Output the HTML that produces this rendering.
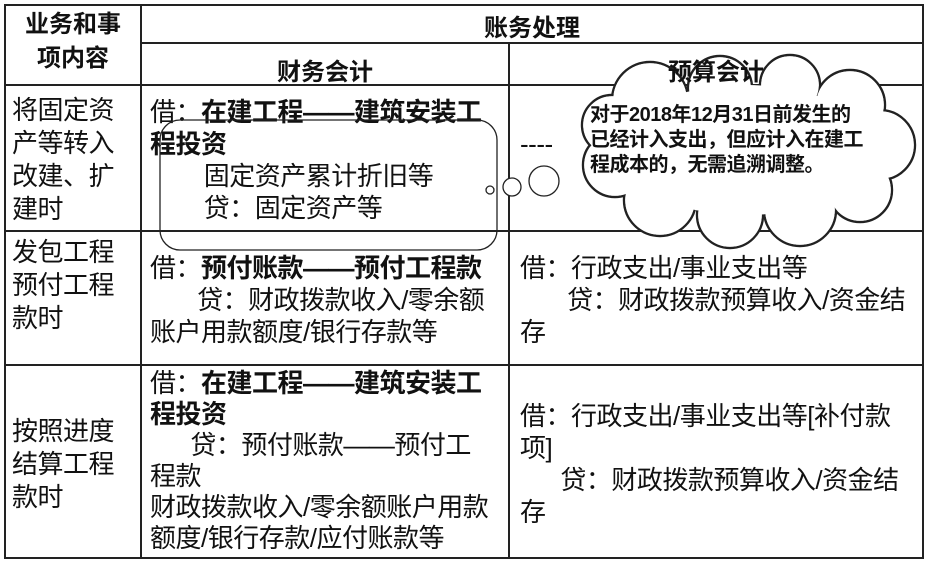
<!DOCTYPE html>
<html><head><meta charset="utf-8"><style>
body{margin:0;width:927px;height:564px;background:#fff;position:relative;overflow:hidden;font-family:"Liberation Sans","Noto Sans CJK SC",sans-serif;color:#111}
.t{position:absolute;font-size:26px;line-height:32px;white-space:nowrap;letter-spacing:-0.5px}
.h{position:absolute;font-size:24px;font-weight:bold;white-space:nowrap;text-align:center}
b{font-weight:bold}
.l{position:absolute;background:#222}
</style></head><body>
<div class="l" style="left:4px;top:4px;width:920px;height:2px"></div>
<div class="l" style="left:141px;top:42px;width:783px;height:2px"></div>
<div class="l" style="left:4px;top:84px;width:920px;height:2px"></div>
<div class="l" style="left:4px;top:230px;width:920px;height:2px"></div>
<div class="l" style="left:4px;top:364px;width:920px;height:2px"></div>
<div class="l" style="left:4px;top:557px;width:920px;height:2px"></div>
<div class="l" style="left:4px;top:4px;width:2px;height:555px"></div>
<div class="l" style="left:140px;top:4px;width:2px;height:555px"></div>
<div class="l" style="left:508px;top:42px;width:2px;height:517px"></div>
<div class="l" style="left:922px;top:4px;width:2px;height:555px"></div>

<div class="h" style="left:6px;top:8px;width:134px;line-height:34px">业务和事<br>项内容</div>
<div class="h" style="left:142px;top:8px;width:780px">账务处理</div>

<div class="t" style="left:12px;top:94px;line-height:33px">将固定资<br>产等转入<br>改建、扩<br>建时</div>
<div class="t" style="left:12px;top:236px;line-height:33px">发包工程<br>预付工程<br>款时</div>
<div class="t" style="left:12px;top:415px;line-height:33px">按照进度<br>结算工程<br>款时</div>

<div class="t" style="left:150px;top:96px">借：<b>在建工程——建筑安装工</b><br><b>程投资</b><br>&nbsp;&nbsp;&nbsp;&nbsp;&nbsp;&nbsp;&nbsp;&nbsp;固定资产累计折旧等<br>&nbsp;&nbsp;&nbsp;&nbsp;&nbsp;&nbsp;&nbsp;&nbsp;贷：固定资产等</div>
<div class="t" style="left:150px;top:252px">借：<b>预付账款——预付工程款</b><br>&nbsp;&nbsp;&nbsp;&nbsp;&nbsp;&nbsp;&nbsp;贷：财政拨款收入/零余额<br>账户用款额度/银行存款等</div>
<div class="t" style="left:150px;top:368px;line-height:31px">借：<b>在建工程——建筑安装工</b><br><b>程投资</b><br>&nbsp;&nbsp;&nbsp;&nbsp;&nbsp;&nbsp;贷：预付账款——预付工<br>程款<br>财政拨款收入/零余额账户用款<br>额度/银行存款/应付账款等</div>

<div class="t" style="left:520px;top:128px">----</div>
<div class="t" style="left:520px;top:252px">借：行政支出/事业支出等<br>&nbsp;&nbsp;&nbsp;&nbsp;&nbsp;&nbsp;&nbsp;贷：财政拨款预算收入/资金结<br>存</div>
<div class="t" style="left:520px;top:400px">借：行政支出/事业支出等[补付款<br>项]<br>&nbsp;&nbsp;&nbsp;&nbsp;&nbsp;&nbsp;贷：财政拨款预算收入/资金结<br>存</div>

<div class="h" style="left:142px;top:52px;width:366px">财务会计</div>
<svg style="position:absolute;left:0;top:0" width="927" height="564">
<rect x="160" y="120" width="337" height="130" rx="20" fill="none" stroke="#222" stroke-width="1.3"/>
<circle cx="490" cy="190" r="4" fill="#fff" stroke="#222" stroke-width="1.3"/>
<circle cx="512" cy="187" r="9" fill="#fff" stroke="#222" stroke-width="1.3"/>
<circle cx="544" cy="181" r="15" fill="#fff" stroke="#222" stroke-width="1.3"/>
<g stroke="#222" stroke-width="2.4" fill="#fff">
<circle cx="650" cy="100" r="38"/><circle cx="720" cy="88" r="32"/><circle cx="790" cy="85" r="30"/>
<circle cx="850" cy="105" r="35"/><circle cx="880" cy="145" r="35"/><circle cx="860" cy="190" r="32"/>
<circle cx="800" cy="210" r="36"/><circle cx="730" cy="215" r="33"/><circle cx="660" cy="200" r="36"/>
<circle cx="615" cy="165" r="32"/><circle cx="612" cy="125" r="30"/>
</g>
<g fill="#fff">
<circle cx="650" cy="100" r="36.8"/><circle cx="720" cy="88" r="30.8"/><circle cx="790" cy="85" r="28.8"/>
<circle cx="850" cy="105" r="33.8"/><circle cx="880" cy="145" r="33.8"/><circle cx="860" cy="190" r="30.8"/>
<circle cx="800" cy="210" r="34.8"/><circle cx="730" cy="215" r="31.8"/><circle cx="660" cy="200" r="34.8"/>
<circle cx="615" cy="165" r="30.8"/><circle cx="612" cy="125" r="28.8"/>
<ellipse cx="745" cy="150" rx="130" ry="65"/>
</g>
</svg>
<div class="h" style="left:510px;top:52px;width:412px">预算会计</div>
<div style="position:absolute;left:590px;top:103px;font-size:20px;font-weight:bold;line-height:25px;white-space:nowrap;letter-spacing:-0.5px">对于2018年12月31日前发生的<br>已经计入支出，但应计入在建工<br>程成本的，无需追溯调整。</div>
</body></html>
